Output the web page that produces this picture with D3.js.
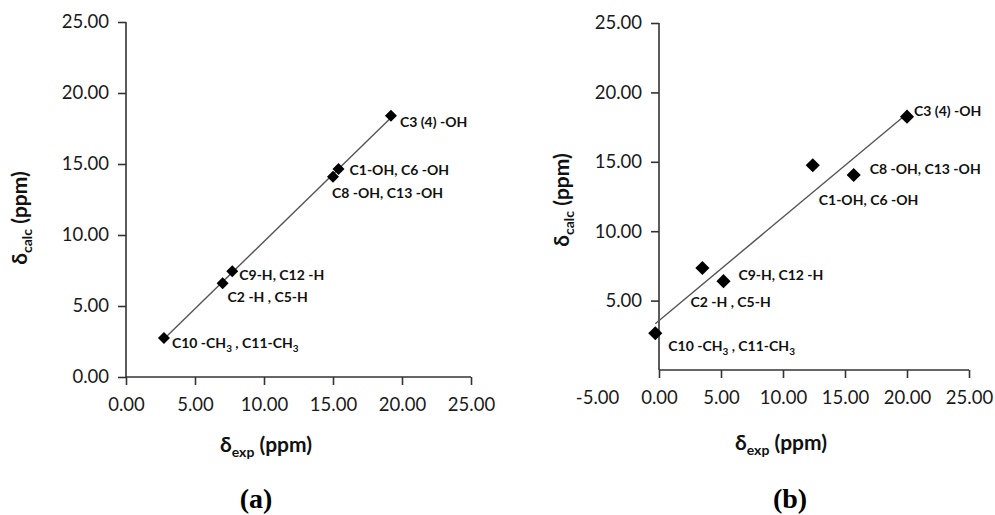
<!DOCTYPE html>
<html>
<head>
<meta charset="utf-8">
<script src="https://cdn.jsdelivr.net/npm/d3@7"></script>
<style>
  html, body { margin: 0; padding: 0; background: #fff; }
  svg { display: block; }
  .tick text { font-family: Lato, "Open Sans", sans-serif; font-size: 18.5px; fill: #1a1a1a; }
  .pt-label { font-family: Lato, "Open Sans", sans-serif; font-size: 14px; font-weight: bold; fill: #111; }
  .ax-title { font-family: Lato, "Open Sans", sans-serif; font-size: 21px; font-weight: bold; fill: #111; }
  .panel-tag { font-family: "Liberation Serif", "DejaVu Serif", serif; font-size: 28px; font-weight: bold; fill: #000; }
</style>
</head>
<body>
<svg id="chart" width="995" height="515"></svg>
<script>
// Assignments shared by both panels
const assignments = ["C3 (4) -OH", "C1-OH, C6 -OH", "C8 -OH, C13 -OH", "C9-H, C12 -H", "C2 -H , C5-H", "C10 -CH3 , C11-CH3"];

// Panel (a): experimental vs calculated shifts
const expA  = [19.2, 15.4, 15.0, 7.7, 7.0, 2.75];
const calcA = [18.4, 14.65, 14.1, 7.45, 6.6, 2.75];

// Panel (b): experimental vs calculated shifts
const expB  = [20.0, 12.4, 15.7, 3.5, 5.2, -0.3];
const calcB = [18.25, 14.75, 14.05, 7.35, 6.4, 2.65];

// Axis ticks
const ticksA_x = [0, 5, 10, 15, 20, 25];
const ticksA_y = [0, 5, 10, 15, 20, 25];
const ticksB_x = [-5, 0, 5, 10, 15, 20, 25];
const ticksB_y = [5, 10, 15, 20, 25];

// Label placement for each point (pixel offset from the marker, text anchored at start)
const offsA = [[9, 11], [11, 6], [-1, 21], [7, 9], [5, 19], [8, 10]];
const offsB = [[7, -1], [6, 40], [16, -1], [36, 12], [-33, 26], [13, 18]];

const svg = d3.select("#chart");
const fmt = v => d3.format(".2f")(v).replace("\u2212", "-");

function fitLine(xs, ys) {
  const mx = d3.mean(xs), my = d3.mean(ys);
  let sxy = 0, sxx = 0;
  xs.forEach((x, i) => { sxy += (x - mx) * (ys[i] - my); sxx += (x - mx) * (x - mx); });
  const b = sxy / sxx;
  return { slope: b, intercept: my - b * mx };
}

function subText(sel, main, sub, rest, subSize) {
  sel.append("tspan").text(main);
  sel.append("tspan").attr("dy", 5).attr("font-size", subSize).text(sub);
  sel.append("tspan").attr("dy", -5).text(rest);
}

function drawPanel(cfg) {
  const g = svg.append("g");
  const x = d3.scaleLinear().domain(cfg.xDomain).range(cfg.xRange);
  const y = d3.scaleLinear().domain([0, 25]).range(cfg.yRange);

  // y axis
  const yAxis = g.append("g")
    .attr("transform", `translate(${x(0)},0)`)
    .call(d3.axisLeft(y).tickValues(cfg.yTicks).tickFormat(fmt).tickSize(8).tickSizeOuter(0).tickPadding(9));
  yAxis.select(".domain").remove();
  g.append("line")
    .attr("x1", x(0)).attr("x2", x(0)).attr("y1", y(0)).attr("y2", y(25))
    .attr("stroke", "#333").attr("stroke-width", 1.6);
  yAxis.selectAll(".tick line").attr("stroke", "#333").attr("stroke-width", 1.6);

  // x axis
  const xAxis = g.append("g")
    .attr("transform", `translate(0,${y(0)})`)
    .call(d3.axisBottom(x).tickValues(cfg.xTicks).tickFormat(fmt).tickSize(8).tickSizeOuter(0).tickPadding(13));
  xAxis.select(".domain").remove();
  g.append("line")
    .attr("x1", x(0)).attr("x2", x(25)).attr("y1", y(0)).attr("y2", y(0))
    .attr("stroke", "#333").attr("stroke-width", 1.6);
  xAxis.selectAll(".tick line")
    .attr("stroke", "#333").attr("stroke-width", 1.6)
    .attr("display", d => d < 0 ? "none" : null);

  // trend line over the data range
  const fit = fitLine(cfg.xs, cfg.ys);
  const x0 = d3.min(cfg.xs), x1 = d3.max(cfg.xs);
  g.append("line")
    .attr("x1", x(x0)).attr("y1", y(fit.intercept + fit.slope * x0))
    .attr("x2", x(x1)).attr("y2", y(fit.intercept + fit.slope * x1))
    .attr("stroke", "#555").attr("stroke-width", 1.4);

  // diamond markers
  const diamond = d3.symbol().type(d3.symbolSquare).size(cfg.markerSize);
  g.selectAll("path.pt").data(cfg.xs).join("path")
    .attr("class", "pt")
    .attr("d", diamond)
    .attr("transform", (d, i) => `translate(${x(d)},${y(cfg.ys[i])}) rotate(45)`)
    .attr("fill", "#000");

  // point labels
  assignments.forEach((name, i) => {
    const t = g.append("text").attr("class", "pt-label")
      .attr("x", x(cfg.xs[i]) + cfg.offs[i][0])
      .attr("y", y(cfg.ys[i]) + cfg.offs[i][1]);
    const parts = name.split("CH3");
    parts.forEach((p, k) => {
      if (k > 0) {
        t.append("tspan").text("CH");
        t.append("tspan").attr("dy", 4).attr("font-size", 10).text("3");
        t.append("tspan").attr("dy", -4).text(p);
      } else {
        t.append("tspan").text(p);
      }
    });
  });

  // axis titles
  const yt = g.append("text").attr("class", "ax-title")
    .attr("text-anchor", "middle")
    .attr("transform", `translate(${cfg.yTitle[0]},${cfg.yTitle[1]}) rotate(-90)`);
  subText(yt, "δ", "calc", " (ppm)", 14);

  const xt = g.append("text").attr("class", "ax-title")
    .attr("text-anchor", "middle")
    .attr("x", cfg.xTitle[0]).attr("y", cfg.xTitle[1]);
  subText(xt, "δ", "exp", " (ppm)", 14);

  g.append("text").attr("class", "panel-tag")
    .attr("text-anchor", "middle")
    .attr("x", cfg.tag[0]).attr("y", cfg.tag[1])
    .text(cfg.tagText);
}

drawPanel({
  xDomain: [0, 25], xRange: [126, 471], yRange: [377, 22],
  xTicks: ticksA_x, yTicks: ticksA_y,
  xs: expA, ys: calcA, offs: offsA, markerSize: 72,
  yTitle: [27, 218], xTitle: [266, 452], tag: [256, 508], tagText: "(a)"
});

drawPanel({
  xDomain: [-5, 25], xRange: [597, 969], yRange: [370, 23],
  xTicks: ticksB_x, yTicks: ticksB_y,
  xs: expB, ys: calcB, offs: offsB, markerSize: 100,
  yTitle: [569, 200], xTitle: [781, 450], tag: [790, 508], tagText: "(b)"
});
</script>
</body>
</html>
